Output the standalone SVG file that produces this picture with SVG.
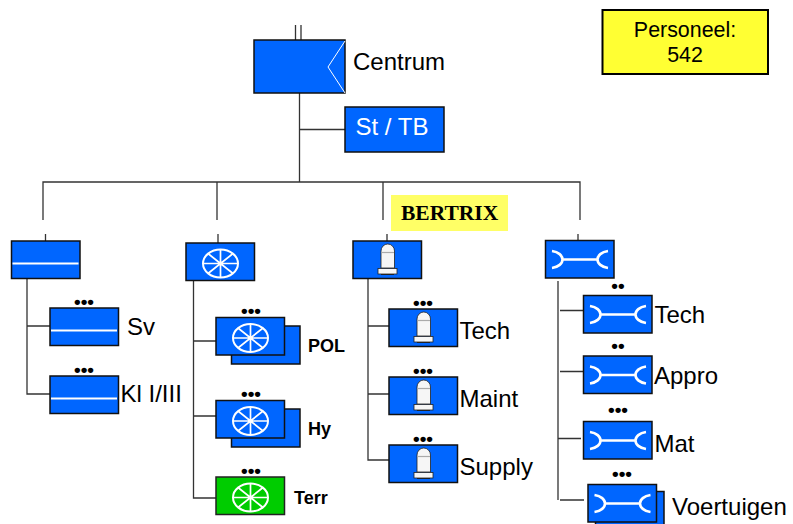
<svg xmlns="http://www.w3.org/2000/svg" xmlns:xlink="http://www.w3.org/1999/xlink" width="793" height="524" viewBox="0 0 793 524">
<style>
text{font-family:"Liberation Sans",Arial,sans-serif;fill:#000}
.l{font-size:24px}
.b{font-size:18px;font-weight:bold}
.d{font-size:19px;font-weight:bold;text-anchor:middle}
.box{fill:#0066ff;stroke:#111;stroke-width:1.5}
.grn{fill:#00cc00;stroke:#222;stroke-width:1.5}
.ic2{fill:none;stroke:#fff;stroke-width:2}
.lk{fill:none;stroke:#fff;stroke-width:2.600}
.lamp{fill:#f6f6f6;stroke:#222;stroke-width:.8}
#conn path{fill:none;stroke:#333;stroke-width:1.3}
</style>
<defs>
<g id="line"><rect class="box" width="68.500" height="37.500"/><path d="M1 22.500H67" stroke="#fff" stroke-width="2" fill="none"/></g>
<g id="wheelicon" class="ic2"><ellipse cx="34.500" cy="20.500" rx="17.500" ry="14"/><path d="M34.500 6.500V34.500M17 20.500H52M22 10.500L47 30.500M47 10.500L22 30.500" stroke-width="1.700"/></g>
<g id="wheel"><rect class="box" width="68.500" height="37.500"/><use xlink:href="#wheelicon"/></g>
<g id="lamp"><rect class="box" width="68.500" height="37.500"/><path class="lamp" d="M28 27V10A6.750 7 0 0 1 41.500 10V27Z"/><path d="M28.500 11.500H41" stroke="#aaa" stroke-width="1.200"/><rect class="lamp" x="25" y="27.500" width="19" height="5.500"/><path d="M28 33.500H41" stroke="#222" stroke-width="1"/></g>
<g id="link"><rect class="box" width="68.500" height="37.500"/><path class="lk" d="M6.500 10.500C13 11.500 17 15 17 19C17 23 13 26.500 6.500 27.500M17 19H52M62.500 10.500C56 11.500 52 15 52 19C52 23 56 26.500 62.500 27.500"/></g>
</defs>
<g id="conn">
<path d="M295.500 25V40M301 25V40"/>
<path d="M299.500 92V182M299.500 129.500H345"/>
<path d="M43 220V182H580V220M217 182V220M383 182V220"/>
<path d="M45.500 234V241M218 234V243M387 234V241M578 234V240"/>
<path d="M27 278V394H50M27 326H50"/>
<path d="M193.500 280V498H216M193.500 341H216M193.500 416H216"/>
<path d="M368 278V460H389M368 326H389M368 394H389"/>
<path d="M558 281V500M560 310.500H583M560 371.500H583M558 438.500H581M560 500H584"/>
</g>
<g id="centrum"><rect class="box" x="254" y="40" width="91" height="53"/><path d="M345 41L328 67L345 93" fill="none" stroke="#fff" stroke-width="1"/><text class="l" x="353" y="70">Centrum</text></g>
<g id="sttb"><rect class="box" x="345" y="107" width="99" height="45"/><text class="l" x="355.500" y="135" style="fill:#fff">St / TB</text></g>
<g id="personeel"><rect x="602.500" y="10" width="165.500" height="64" fill="#ffff33" stroke="#000" stroke-width="2"/><text x="685" y="37" font-size="21.400" text-anchor="middle">Personeel:</text><text x="685" y="62" font-size="21.400" text-anchor="middle">542</text></g>
<g id="bertrix"><rect x="391" y="195" width="117" height="36" fill="#ffff66"/><text x="401" y="220" font-size="21.500" font-weight="bold" style="font-family:'Liberation Serif','Times New Roman',serif">BERTRIX</text></g>
<g id="n1"><use xlink:href="#line" x="11.500" y="241"/></g>
<g id="sv"><text class="d" x="84" y="307.500">•••</text><use xlink:href="#line" x="50" y="308"/><text class="l" x="127" y="335">Sv</text></g>
<g id="kl"><text class="d" x="84" y="375.500">•••</text><use xlink:href="#line" x="50" y="376"/><text class="l" x="120.500" y="402">Kl I/III</text></g>
<g id="n2"><use xlink:href="#wheel" x="186" y="243"/></g>
<g id="pol"><text class="d" x="251" y="316.500">•••</text><rect class="box" x="231.500" y="326" width="68.500" height="38"/><use xlink:href="#wheel" x="216" y="317.500"/><text class="b" x="308" y="352">POL</text></g>
<g id="hy"><text class="d" x="251" y="399.500">•••</text><rect class="box" x="231.500" y="409" width="68.500" height="38"/><use xlink:href="#wheel" x="216" y="400.500"/><text class="b" x="308" y="435">Hy</text></g>
<g id="terr"><text class="d" x="251" y="476.500">•••</text><rect class="grn" x="216" y="477" width="68.500" height="37.500"/><use xlink:href="#wheelicon" x="216" y="477"/><text class="b" x="294" y="504">Terr</text></g>
<g id="n3"><use xlink:href="#lamp" x="353" y="241"/></g>
<g id="tech1"><text class="d" x="423" y="308.500">•••</text><use xlink:href="#lamp" x="389" y="309"/><text class="l" x="459.500" y="339">Tech</text></g>
<g id="maint"><text class="d" x="423" y="376.500">•••</text><use xlink:href="#lamp" x="389" y="377"/><text class="l" x="459.500" y="407">Maint</text></g>
<g id="supply"><text class="d" x="423" y="444.500">•••</text><use xlink:href="#lamp" x="389" y="445"/><text class="l" x="459.500" y="475">Supply</text></g>
<g id="n4"><use xlink:href="#link" x="545.500" y="240.500"/></g>
<g id="tech2"><text class="d" x="618" y="291.500">••</text><use xlink:href="#link" x="583.500" y="295.500"/><text class="l" x="654.500" y="323">Tech</text></g>
<g id="appro"><text class="d" x="618" y="351.500">••</text><use xlink:href="#link" x="583.500" y="356"/><text class="l" x="654" y="384">Appro</text></g>
<g id="mat"><text class="d" x="618" y="416">•••</text><use xlink:href="#link" x="583.500" y="421.500"/><text class="l" x="654.500" y="452">Mat</text></g>
<g id="voertuigen"><text class="d" x="622" y="480">•••</text><rect class="box" x="595.500" y="491.500" width="68.500" height="38"/><use xlink:href="#link" x="588" y="484.500"/><text class="l" x="672" y="515">Voertuigen</text></g>
</svg>
